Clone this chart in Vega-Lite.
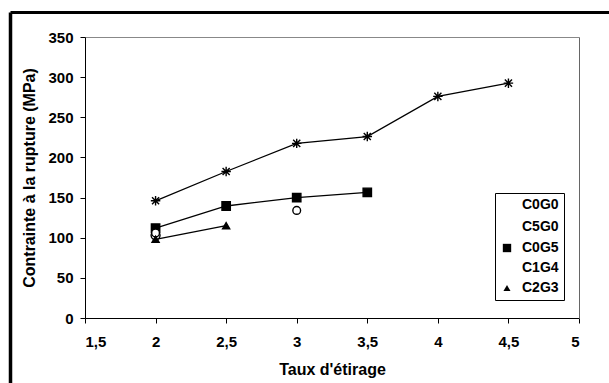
{
  "$schema": "https://vega.github.io/schema/vega-lite/v6.json",
  "autosize": "none",
  "width": 599,
  "height": 371,
  "padding": {"left": 10, "top": 12, "right": 0, "bottom": 0},
  "background": "white",
  "config": {
    "font": "Liberation Sans",
    "view": {"stroke": null},
    "axis": {
      "grid": false,
      "domainColor": "black",
      "tickColor": "black",
      "labelColor": "black",
      "titleColor": "black",
      "labelFont": "Liberation Sans",
      "labelFontWeight": "bold",
      "labelFontSize": 15,
      "titleFont": "Liberation Sans",
      "titleFontWeight": "bold",
      "titleFontSize": 16,
      "tickSize": 5
    },
    "legend": {
      "labelFont": "Liberation Sans",
      "labelFontWeight": "bold",
      "labelFontSize": 14,
      "labelColor": "black",
      "rowPadding": 6,
      "padding": 5,
      "labelOffset": 8,
      "symbolStrokeColor": "black"
    }
  },
  "data": {
    "values": [
      {"serie": "C0G0", "x": 2, "y": 146},
      {"serie": "C0G0", "x": 2.5, "y": 182.5},
      {"serie": "C0G0", "x": 3, "y": 217.5},
      {"serie": "C0G0", "x": 3.5, "y": 226},
      {"serie": "C0G0", "x": 4, "y": 276},
      {"serie": "C0G0", "x": 4.5, "y": 292.5},
      {"serie": "C5G0", "x": 2, "y": 103},
      {"serie": "C0G5", "x": 2, "y": 112},
      {"serie": "C0G5", "x": 2.5, "y": 139.5},
      {"serie": "C0G5", "x": 3, "y": 150},
      {"serie": "C0G5", "x": 3.5, "y": 156.5},
      {"serie": "C1G4", "x": 2, "y": 106},
      {"serie": "C1G4", "x": 3, "y": 134},
      {"serie": "C2G3", "x": 2, "y": 98},
      {"serie": "C2G3", "x": 2.5, "y": 115}
    ]
  },
  "layer": [
    {
      "data": {"values": [{"a": 0}]},
      "mark": {"type": "point", "opacity": 0},
      "encoding": {
        "x": {"field": "a", "type": "quantitative", "scale": {"domain": [0, 1], "nice": false},
          "axis": {"orient": "top", "domainColor": "black", "domainWidth": 3, "ticks": false, "labels": false, "title": null}},
        "y": {"field": "a", "type": "quantitative", "scale": {"domain": [0, 1], "nice": false},
          "axis": {"orient": "left", "domainColor": "black", "domainWidth": 3.5, "ticks": false, "labels": false, "title": null}}
      }
    },
    {
      "transform": [{"filter": "datum.serie != 'C1G4' && datum.serie != 'C5G0'"}],
      "mark": {"type": "line", "color": "black", "strokeWidth": 1.3},
      "encoding": {
        "detail": {"field": "serie"},
        "x": {
          "field": "x", "type": "quantitative",
          "scale": {"domain": [1.5, 5], "nice": false, "zero": false, "range": [75, 569]},
          "axis": {"orient": "bottom", "offset": -65, "values": [1.5, 2, 2.5, 3, 3.5, 4, 4.5, 5], "format": ".1~f", "labelExpr": "replace(datum.label, '.', ',')", "title": "Taux d'étirage", "titlePadding": 12, "labelPadding": 11}
        },
        "y": {
          "field": "y", "type": "quantitative",
          "scale": {"domain": [0, 350], "nice": false, "range": [306, 25]},
          "axis": {"orient": "left", "offset": -75, "values": [0, 50, 100, 150, 200, 250, 300, 350], "title": "Contrainte à la rupture (MPa)", "titlePadding": 10, "labelPadding": 7}
        }
      }
    },
    {
      "mark": {"type": "point", "filled": true, "stroke": "black", "strokeWidth": 1.4, "opacity": 1},
      "encoding": {
        "x": {
          "field": "x", "type": "quantitative",
          "scale": {"domain": [1.5, 5], "nice": false, "zero": false, "range": [75, 569]},
          "axis": {"orient": "top", "offset": -25, "domainColor": "#888888", "ticks": false, "labels": false, "title": null}
        },
        "y": {
          "field": "y", "type": "quantitative",
          "scale": {"domain": [0, 350], "nice": false, "range": [306, 25]},
          "axis": {"orient": "right", "offset": -30, "domainColor": "#666666", "ticks": false, "labels": false, "title": null}
        },
        "shape": {
          "field": "serie", "type": "nominal",
          "scale": {
            "domain": ["C0G0", "C5G0", "C0G5", "C1G4", "C2G3"],
            "range": ["M-1,0L1,0M0,-1L0,1M-0.75,-0.75L0.75,0.75M-0.75,0.75L0.75,-0.75", "circle", "square", "circle", "triangle-up"]
          },
          "legend": {
            "title": null,
            "orient": "none",
            "legendX": 485,
            "legendY": 181,
            "strokeColor": "black",
            "fillColor": "white",
            "symbolStrokeColor": "black",
            "symbolStrokeWidth": 1.3
          }
        },
        "fill": {
          "field": "serie", "type": "nominal",
          "scale": {"domain": ["C0G0", "C5G0", "C0G5", "C1G4", "C2G3"], "range": ["black", "white", "black", "white", "black"]}
        },
        "size": {
          "field": "serie", "type": "nominal",
          "scale": {"domain": ["C0G0", "C5G0", "C0G5", "C1G4", "C2G3"], "range": [90, 50, 64, 10, 70]}
        }
      }
    }
  ],
  "resolve": {
    "scale": {"x": "independent", "y": "independent"},
    "axis": {"x": "independent", "y": "independent"}
  }
}
